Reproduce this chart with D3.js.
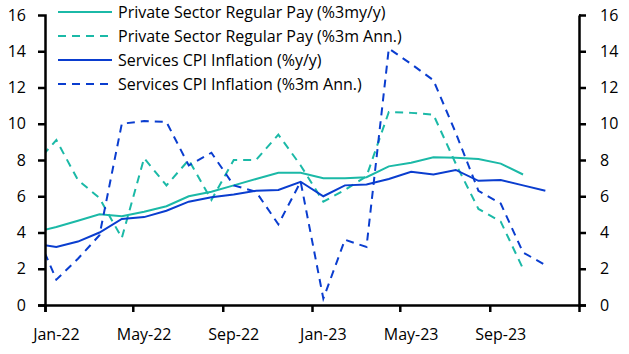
<!DOCTYPE html>
<html>
<head>
<meta charset="utf-8">
<script src="https://cdn.jsdelivr.net/npm/d3@7"></script>
<style>
	body { margin: 0; background: white; }
	text { font-family: "Open Sans", sans-serif; }
</style>
</head>
<body>
<div id="chart-area"></div>
<script>
// *********************
// Data
// *********************

// months (Dec-21 is only there so the lines run into the left axis)
const months = ["2021-12",
	"2022-01","2022-02","2022-03","2022-04","2022-05","2022-06",
	"2022-07","2022-08","2022-09","2022-10","2022-11","2022-12",
	"2023-01","2023-02","2023-03","2023-04","2023-05","2023-06",
	"2023-07","2023-08","2023-09","2023-10","2023-11","2023-12"];

const payYoY = [4.0,
	4.3,4.65,5.0,4.9,5.15,5.45,6.0,6.25,6.6,6.95,7.3,7.3,
	7.0,7.0,7.05,7.65,7.85,8.15,8.13,8.05,7.8,7.2,null,null];

const pay3m = [7.7,
	9.1,6.9,5.9,3.7,8.1,6.6,8.0,5.8,8.0,8.0,9.4,7.7,
	5.7,6.35,7.1,10.65,10.6,10.5,7.8,5.3,4.6,2.0,null,null];

const cpiYoY = [3.4,
	3.2,3.5,4.0,4.75,4.85,5.2,5.7,5.95,6.1,6.3,6.35,6.8,
	6.0,6.6,6.65,6.95,7.35,7.2,7.45,6.85,6.9,6.6,6.3,null];

const cpi3m = [4.3,
	1.4,2.55,3.85,10.0,10.15,10.1,7.7,8.4,6.6,6.25,4.45,6.8,
	0.35,3.6,3.2,14.15,13.3,12.4,9.5,6.3,5.6,2.9,2.2,null];

const yTicks = [0,2,4,6,8,10,12,14,16];
const xTickMonths = ["2022-01","2022-05","2022-09","2023-01","2023-05","2023-09","2024-01"];
const xLabelMonths = ["2022-01","2022-05","2022-09","2023-01","2023-05","2023-09"];

const seriesNames = [
	"Private Sector Regular Pay (%3my/y)",
	"Private Sector Regular Pay (%3m Ann.)",
	"Services CPI Inflation (%y/y)",
	"Services CPI Inflation (%3m Ann.)"
];

// *********************
// Basic setup SVG
// *********************

const width = 629;
const height = 354;
const margin = {left: 45, right: 50, top: 15, bottom: 49};
const innerW = width - margin.left - margin.right;
const innerH = height - margin.top - margin.bottom;

const teal = "#1bb9a7";
const blue = "#0a3dcf";
const fontSize = "16px";

const svg = d3.select("#chart-area")
	.append("svg")
	.attr("width", width)
	.attr("height", height);

const g = svg.append("g")
	.attr("transform", "translate(" + margin.left + "," + margin.top + ")");

// *********************
// Scales
// *********************

const parse = d3.timeParse("%Y-%m");

const x = d3.scaleTime()
	.domain([parse("2022-01"), parse("2024-01")])
	.range([0, innerW]);

// points sit in the middle of each month
const xMid = m => {
	const d = parse(m);
	return (x(d) + x(d3.timeMonth.offset(d, 1))) / 2;
};

const y = d3.scaleLinear()
	.domain([0, 16])
	.range([innerH, 0]);

// *********************
// Lines
// *********************

g.append("clipPath")
	.attr("id", "clip")
	.append("rect")
	.attr("width", innerW)
	.attr("height", innerH + 2)
	.attr("y", -2);

const line = d3.line()
	.defined(d => d.v !== null)
	.x(d => xMid(d.m))
	.y(d => y(d.v));

const series = [
	{name: seriesNames[0], values: payYoY, color: teal, dash: null},
	{name: seriesNames[1], values: pay3m, color: teal, dash: "8,6"},
	{name: seriesNames[2], values: cpiYoY, color: blue, dash: null},
	{name: seriesNames[3], values: cpi3m, color: blue, dash: "8,6"}
];

const lines = g.append("g").attr("clip-path", "url(#clip)");

series.forEach(s => {
	lines.append("path")
		.datum(months.map((m, i) => ({m: m, v: s.values[i]})))
		.attr("fill", "none")
		.attr("stroke", s.color)
		.attr("stroke-width", 2)
		.attr("stroke-dasharray", s.dash)
		.attr("d", line);
});

// *********************
// Axes
// *********************

const yAxisLeft = d3.axisLeft(y)
	.tickValues(yTicks)
	.tickSize(7)
	.tickPadding(12);

const yAxisRight = d3.axisRight(y)
	.tickValues(yTicks)
	.tickSize(7)
	.tickPadding(14);

const xAxis = d3.axisBottom(x)
	.tickValues(xTickMonths.map(parse))
	.tickSize(7)
	.tickFormat("");

g.append("g").attr("class", "axis").call(yAxisLeft);
g.append("g").attr("class", "axis")
	.attr("transform", "translate(" + innerW + ",0)")
	.call(yAxisRight);
g.append("g").attr("class", "axis")
	.attr("transform", "translate(0," + innerH + ")")
	.call(xAxis);

// x labels centred on their month
const fmt = d3.timeFormat("%b-%y");
g.append("g")
	.selectAll("text")
	.data(xLabelMonths)
	.enter()
	.append("text")
	.attr("x", d => xMid(d))
	.attr("y", innerH + 35)
	.attr("text-anchor", "middle")
	.attr("font-size", fontSize)
	.attr("fill", "black")
	.text(d => fmt(parse(d)));

g.selectAll(".axis path")
	.attr("stroke", "black")
	.attr("stroke-width", 2.5);
g.selectAll(".axis line")
	.attr("stroke", "black")
	.attr("stroke-width", 2.5);
// drop the outer end ticks of the domain path
g.selectAll(".axis path.domain")
	.attr("d", function() { return d3.select(this).attr("d").replace(/[hHvV]-?7/g, m => m[0] + "0"); });
g.selectAll(".axis text")
	.attr("font-size", fontSize)
	.attr("fill", "black")
	.attr("font-family", "Open Sans, sans-serif");

// *********************
// Legend
// *********************

const legend = svg.append("g")
	.attr("transform", "translate(58,12)");

series.forEach((s, i) => {
	const row = legend.append("g")
		.attr("transform", "translate(0," + (i * 24) + ")");
	row.append("line")
		.attr("x1", 0)
		.attr("x2", 54)
		.attr("stroke", s.color)
		.attr("stroke-width", 2)
		.attr("stroke-dasharray", s.dash);
	row.append("text")
		.attr("x", 60)
		.attr("y", 0)
		.attr("dy", "0.35em")
		.attr("font-size", fontSize)
		.attr("fill", "black")
		.text(s.name);
});
</script>
</body>
</html>
